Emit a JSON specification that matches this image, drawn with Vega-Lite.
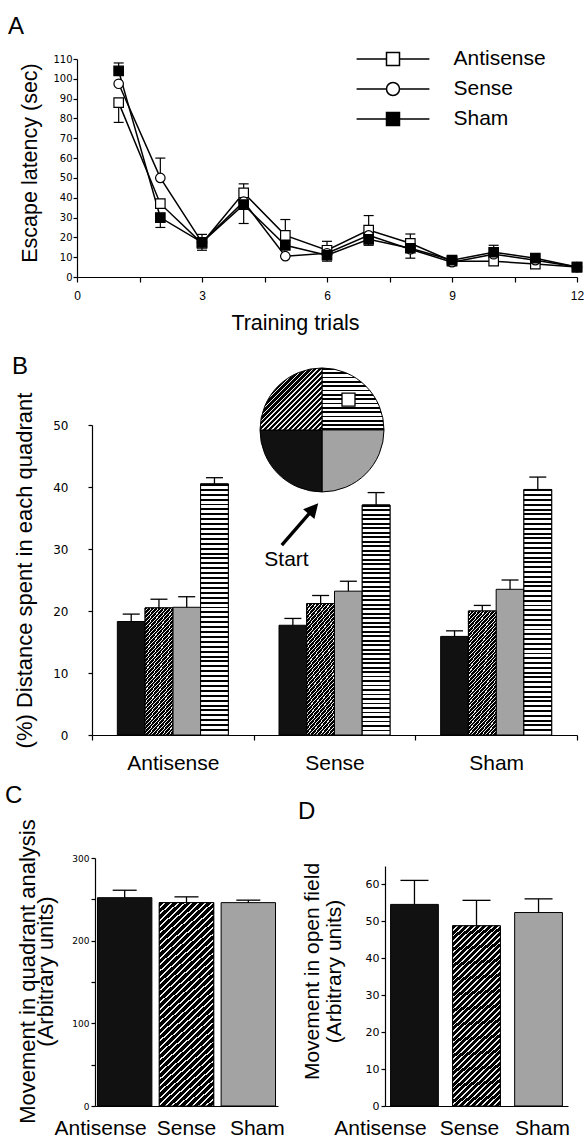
{
  "$schema": "https://vega.github.io/schema/vega-lite/v6.json",
  "background": "white",
  "padding": {"left": 5, "top": 15, "right": 0, "bottom": 0},
  "params": [
    {"name": "stripeStops", "value": [
      {"offset":0,"color":"#000"},{"offset":0.0078125,"color":"#000"},{"offset":0.0078125,"color":"#fff"},{"offset":0.01953125,"color":"#fff"},
      {"offset":0.01953125,"color":"#000"},{"offset":0.02734375,"color":"#000"},{"offset":0.02734375,"color":"#fff"},{"offset":0.0390625,"color":"#fff"},
      {"offset":0.0390625,"color":"#000"},{"offset":0.046875,"color":"#000"},{"offset":0.046875,"color":"#fff"},{"offset":0.05859375,"color":"#fff"},
      {"offset":0.05859375,"color":"#000"},{"offset":0.06640625,"color":"#000"},{"offset":0.06640625,"color":"#fff"},{"offset":0.078125,"color":"#fff"},
      {"offset":0.078125,"color":"#000"},{"offset":0.0859375,"color":"#000"},{"offset":0.0859375,"color":"#fff"},{"offset":0.09765625,"color":"#fff"},
      {"offset":0.09765625,"color":"#000"},{"offset":0.10546875,"color":"#000"},{"offset":0.10546875,"color":"#fff"},{"offset":0.1171875,"color":"#fff"},
      {"offset":0.1171875,"color":"#000"},{"offset":0.125,"color":"#000"},{"offset":0.125,"color":"#fff"},{"offset":0.13671875,"color":"#fff"},
      {"offset":0.13671875,"color":"#000"},{"offset":0.14453125,"color":"#000"},{"offset":0.14453125,"color":"#fff"},{"offset":0.15625,"color":"#fff"},
      {"offset":0.15625,"color":"#000"},{"offset":0.1640625,"color":"#000"},{"offset":0.1640625,"color":"#fff"},{"offset":0.17578125,"color":"#fff"},
      {"offset":0.17578125,"color":"#000"},{"offset":0.18359375,"color":"#000"},{"offset":0.18359375,"color":"#fff"},{"offset":0.1953125,"color":"#fff"},
      {"offset":0.1953125,"color":"#000"},{"offset":0.203125,"color":"#000"},{"offset":0.203125,"color":"#fff"},{"offset":0.21484375,"color":"#fff"},
      {"offset":0.21484375,"color":"#000"},{"offset":0.22265625,"color":"#000"},{"offset":0.22265625,"color":"#fff"},{"offset":0.234375,"color":"#fff"},
      {"offset":0.234375,"color":"#000"},{"offset":0.2421875,"color":"#000"},{"offset":0.2421875,"color":"#fff"},{"offset":0.25390625,"color":"#fff"},
      {"offset":0.25390625,"color":"#000"},{"offset":0.26171875,"color":"#000"},{"offset":0.26171875,"color":"#fff"},{"offset":0.2734375,"color":"#fff"},
      {"offset":0.2734375,"color":"#000"},{"offset":0.28125,"color":"#000"},{"offset":0.28125,"color":"#fff"},{"offset":0.29296875,"color":"#fff"},
      {"offset":0.29296875,"color":"#000"},{"offset":0.30078125,"color":"#000"},{"offset":0.30078125,"color":"#fff"},{"offset":0.3125,"color":"#fff"},
      {"offset":0.3125,"color":"#000"},{"offset":0.3203125,"color":"#000"},{"offset":0.3203125,"color":"#fff"},{"offset":0.33203125,"color":"#fff"},
      {"offset":0.33203125,"color":"#000"},{"offset":0.33984375,"color":"#000"},{"offset":0.33984375,"color":"#fff"},{"offset":0.3515625,"color":"#fff"},
      {"offset":0.3515625,"color":"#000"},{"offset":0.359375,"color":"#000"},{"offset":0.359375,"color":"#fff"},{"offset":0.37109375,"color":"#fff"},
      {"offset":0.37109375,"color":"#000"},{"offset":0.37890625,"color":"#000"},{"offset":0.37890625,"color":"#fff"},{"offset":0.390625,"color":"#fff"},
      {"offset":0.390625,"color":"#000"},{"offset":0.3984375,"color":"#000"},{"offset":0.3984375,"color":"#fff"},{"offset":0.41015625,"color":"#fff"},
      {"offset":0.41015625,"color":"#000"},{"offset":0.41796875,"color":"#000"},{"offset":0.41796875,"color":"#fff"},{"offset":0.4296875,"color":"#fff"},
      {"offset":0.4296875,"color":"#000"},{"offset":0.4375,"color":"#000"},{"offset":0.4375,"color":"#fff"},{"offset":0.44921875,"color":"#fff"},
      {"offset":0.44921875,"color":"#000"},{"offset":0.45703125,"color":"#000"},{"offset":0.45703125,"color":"#fff"},{"offset":0.46875,"color":"#fff"},
      {"offset":0.46875,"color":"#000"},{"offset":0.4765625,"color":"#000"},{"offset":0.4765625,"color":"#fff"},{"offset":0.48828125,"color":"#fff"},
      {"offset":0.48828125,"color":"#000"},{"offset":0.49609375,"color":"#000"},{"offset":0.49609375,"color":"#fff"},{"offset":0.5078125,"color":"#fff"},
      {"offset":0.5078125,"color":"#000"},{"offset":0.515625,"color":"#000"},{"offset":0.515625,"color":"#fff"},{"offset":0.52734375,"color":"#fff"},
      {"offset":0.52734375,"color":"#000"},{"offset":0.53515625,"color":"#000"},{"offset":0.53515625,"color":"#fff"},{"offset":0.546875,"color":"#fff"},
      {"offset":0.546875,"color":"#000"},{"offset":0.5546875,"color":"#000"},{"offset":0.5546875,"color":"#fff"},{"offset":0.56640625,"color":"#fff"},
      {"offset":0.56640625,"color":"#000"},{"offset":0.57421875,"color":"#000"},{"offset":0.57421875,"color":"#fff"},{"offset":0.5859375,"color":"#fff"},
      {"offset":0.5859375,"color":"#000"},{"offset":0.59375,"color":"#000"},{"offset":0.59375,"color":"#fff"},{"offset":0.60546875,"color":"#fff"},
      {"offset":0.60546875,"color":"#000"},{"offset":0.61328125,"color":"#000"},{"offset":0.61328125,"color":"#fff"},{"offset":0.625,"color":"#fff"},
      {"offset":0.625,"color":"#000"},{"offset":0.6328125,"color":"#000"},{"offset":0.6328125,"color":"#fff"},{"offset":0.64453125,"color":"#fff"},
      {"offset":0.64453125,"color":"#000"},{"offset":0.65234375,"color":"#000"},{"offset":0.65234375,"color":"#fff"},{"offset":0.6640625,"color":"#fff"},
      {"offset":0.6640625,"color":"#000"},{"offset":0.671875,"color":"#000"},{"offset":0.671875,"color":"#fff"},{"offset":0.68359375,"color":"#fff"},
      {"offset":0.68359375,"color":"#000"},{"offset":0.69140625,"color":"#000"},{"offset":0.69140625,"color":"#fff"},{"offset":0.703125,"color":"#fff"},
      {"offset":0.703125,"color":"#000"},{"offset":0.7109375,"color":"#000"},{"offset":0.7109375,"color":"#fff"},{"offset":0.72265625,"color":"#fff"},
      {"offset":0.72265625,"color":"#000"},{"offset":0.73046875,"color":"#000"},{"offset":0.73046875,"color":"#fff"},{"offset":0.7421875,"color":"#fff"},
      {"offset":0.7421875,"color":"#000"},{"offset":0.75,"color":"#000"},{"offset":0.75,"color":"#fff"},{"offset":0.76171875,"color":"#fff"},
      {"offset":0.76171875,"color":"#000"},{"offset":0.76953125,"color":"#000"},{"offset":0.76953125,"color":"#fff"},{"offset":0.78125,"color":"#fff"},
      {"offset":0.78125,"color":"#000"},{"offset":0.7890625,"color":"#000"},{"offset":0.7890625,"color":"#fff"},{"offset":0.80078125,"color":"#fff"},
      {"offset":0.80078125,"color":"#000"},{"offset":0.80859375,"color":"#000"},{"offset":0.80859375,"color":"#fff"},{"offset":0.8203125,"color":"#fff"},
      {"offset":0.8203125,"color":"#000"},{"offset":0.828125,"color":"#000"},{"offset":0.828125,"color":"#fff"},{"offset":0.83984375,"color":"#fff"},
      {"offset":0.83984375,"color":"#000"},{"offset":0.84765625,"color":"#000"},{"offset":0.84765625,"color":"#fff"},{"offset":0.859375,"color":"#fff"},
      {"offset":0.859375,"color":"#000"},{"offset":0.8671875,"color":"#000"},{"offset":0.8671875,"color":"#fff"},{"offset":0.87890625,"color":"#fff"},
      {"offset":0.87890625,"color":"#000"},{"offset":0.88671875,"color":"#000"},{"offset":0.88671875,"color":"#fff"},{"offset":0.8984375,"color":"#fff"},
      {"offset":0.8984375,"color":"#000"},{"offset":0.90625,"color":"#000"},{"offset":0.90625,"color":"#fff"},{"offset":0.91796875,"color":"#fff"},
      {"offset":0.91796875,"color":"#000"},{"offset":0.92578125,"color":"#000"},{"offset":0.92578125,"color":"#fff"},{"offset":0.9375,"color":"#fff"},
      {"offset":0.9375,"color":"#000"},{"offset":0.9453125,"color":"#000"},{"offset":0.9453125,"color":"#fff"},{"offset":0.95703125,"color":"#fff"},
      {"offset":0.95703125,"color":"#000"},{"offset":0.96484375,"color":"#000"},{"offset":0.96484375,"color":"#fff"},{"offset":0.9765625,"color":"#fff"},
      {"offset":0.9765625,"color":"#000"},{"offset":0.984375,"color":"#000"},{"offset":0.984375,"color":"#fff"},{"offset":1,"color":"#fff"}
    ]},
    {"name": "hatchStops", "value": [
      {"offset":0,"color":"#000"},{"offset":0.0175,"color":"#000"},{"offset":0.0175,"color":"#eee"},{"offset":0.025,"color":"#eee"},
      {"offset":0.025,"color":"#000"},{"offset":0.0425,"color":"#000"},{"offset":0.0425,"color":"#eee"},{"offset":0.05,"color":"#eee"},
      {"offset":0.05,"color":"#000"},{"offset":0.0675,"color":"#000"},{"offset":0.0675,"color":"#eee"},{"offset":0.075,"color":"#eee"},
      {"offset":0.075,"color":"#000"},{"offset":0.0925,"color":"#000"},{"offset":0.0925,"color":"#eee"},{"offset":0.1,"color":"#eee"},
      {"offset":0.1,"color":"#000"},{"offset":0.1175,"color":"#000"},{"offset":0.1175,"color":"#eee"},{"offset":0.125,"color":"#eee"},
      {"offset":0.125,"color":"#000"},{"offset":0.1425,"color":"#000"},{"offset":0.1425,"color":"#eee"},{"offset":0.15,"color":"#eee"},
      {"offset":0.15,"color":"#000"},{"offset":0.1675,"color":"#000"},{"offset":0.1675,"color":"#eee"},{"offset":0.175,"color":"#eee"},
      {"offset":0.175,"color":"#000"},{"offset":0.1925,"color":"#000"},{"offset":0.1925,"color":"#eee"},{"offset":0.2,"color":"#eee"},
      {"offset":0.2,"color":"#000"},{"offset":0.2175,"color":"#000"},{"offset":0.2175,"color":"#eee"},{"offset":0.225,"color":"#eee"},
      {"offset":0.225,"color":"#000"},{"offset":0.2425,"color":"#000"},{"offset":0.2425,"color":"#eee"},{"offset":0.25,"color":"#eee"},
      {"offset":0.25,"color":"#000"},{"offset":0.2675,"color":"#000"},{"offset":0.2675,"color":"#eee"},{"offset":0.275,"color":"#eee"},
      {"offset":0.275,"color":"#000"},{"offset":0.2925,"color":"#000"},{"offset":0.2925,"color":"#eee"},{"offset":0.3,"color":"#eee"},
      {"offset":0.3,"color":"#000"},{"offset":0.3175,"color":"#000"},{"offset":0.3175,"color":"#eee"},{"offset":0.325,"color":"#eee"},
      {"offset":0.325,"color":"#000"},{"offset":0.3425,"color":"#000"},{"offset":0.3425,"color":"#eee"},{"offset":0.35,"color":"#eee"},
      {"offset":0.35,"color":"#000"},{"offset":0.3675,"color":"#000"},{"offset":0.3675,"color":"#eee"},{"offset":0.375,"color":"#eee"},
      {"offset":0.375,"color":"#000"},{"offset":0.3925,"color":"#000"},{"offset":0.3925,"color":"#eee"},{"offset":0.4,"color":"#eee"},
      {"offset":0.4,"color":"#000"},{"offset":0.4175,"color":"#000"},{"offset":0.4175,"color":"#eee"},{"offset":0.425,"color":"#eee"},
      {"offset":0.425,"color":"#000"},{"offset":0.4425,"color":"#000"},{"offset":0.4425,"color":"#eee"},{"offset":0.45,"color":"#eee"},
      {"offset":0.45,"color":"#000"},{"offset":0.4675,"color":"#000"},{"offset":0.4675,"color":"#eee"},{"offset":0.475,"color":"#eee"},
      {"offset":0.475,"color":"#000"},{"offset":0.4925,"color":"#000"},{"offset":0.4925,"color":"#eee"},{"offset":0.5,"color":"#eee"},
      {"offset":0.5,"color":"#000"},{"offset":0.5175,"color":"#000"},{"offset":0.5175,"color":"#eee"},{"offset":0.525,"color":"#eee"},
      {"offset":0.525,"color":"#000"},{"offset":0.5425,"color":"#000"},{"offset":0.5425,"color":"#eee"},{"offset":0.55,"color":"#eee"},
      {"offset":0.55,"color":"#000"},{"offset":0.5675,"color":"#000"},{"offset":0.5675,"color":"#eee"},{"offset":0.575,"color":"#eee"},
      {"offset":0.575,"color":"#000"},{"offset":0.5925,"color":"#000"},{"offset":0.5925,"color":"#eee"},{"offset":0.6,"color":"#eee"},
      {"offset":0.6,"color":"#000"},{"offset":0.6175,"color":"#000"},{"offset":0.6175,"color":"#eee"},{"offset":0.625,"color":"#eee"},
      {"offset":0.625,"color":"#000"},{"offset":0.6425,"color":"#000"},{"offset":0.6425,"color":"#eee"},{"offset":0.65,"color":"#eee"},
      {"offset":0.65,"color":"#000"},{"offset":0.6675,"color":"#000"},{"offset":0.6675,"color":"#eee"},{"offset":0.675,"color":"#eee"},
      {"offset":0.675,"color":"#000"},{"offset":0.6925,"color":"#000"},{"offset":0.6925,"color":"#eee"},{"offset":0.7,"color":"#eee"},
      {"offset":0.7,"color":"#000"},{"offset":0.7175,"color":"#000"},{"offset":0.7175,"color":"#eee"},{"offset":0.725,"color":"#eee"},
      {"offset":0.725,"color":"#000"},{"offset":0.7425,"color":"#000"},{"offset":0.7425,"color":"#eee"},{"offset":0.75,"color":"#eee"},
      {"offset":0.75,"color":"#000"},{"offset":0.7675,"color":"#000"},{"offset":0.7675,"color":"#eee"},{"offset":0.775,"color":"#eee"},
      {"offset":0.775,"color":"#000"},{"offset":0.7925,"color":"#000"},{"offset":0.7925,"color":"#eee"},{"offset":0.8,"color":"#eee"},
      {"offset":0.8,"color":"#000"},{"offset":0.8175,"color":"#000"},{"offset":0.8175,"color":"#eee"},{"offset":0.825,"color":"#eee"},
      {"offset":0.825,"color":"#000"},{"offset":0.8425,"color":"#000"},{"offset":0.8425,"color":"#eee"},{"offset":0.85,"color":"#eee"},
      {"offset":0.85,"color":"#000"},{"offset":0.8675,"color":"#000"},{"offset":0.8675,"color":"#eee"},{"offset":0.875,"color":"#eee"},
      {"offset":0.875,"color":"#000"},{"offset":0.8925,"color":"#000"},{"offset":0.8925,"color":"#eee"},{"offset":0.9,"color":"#eee"},
      {"offset":0.9,"color":"#000"},{"offset":0.9175,"color":"#000"},{"offset":0.9175,"color":"#eee"},{"offset":0.925,"color":"#eee"},
      {"offset":0.925,"color":"#000"},{"offset":0.9425,"color":"#000"},{"offset":0.9425,"color":"#eee"},{"offset":0.95,"color":"#eee"},
      {"offset":0.95,"color":"#000"},{"offset":0.9675,"color":"#000"},{"offset":0.9675,"color":"#eee"},{"offset":0.975,"color":"#eee"},
      {"offset":0.975,"color":"#000"},{"offset":0.9925,"color":"#000"},{"offset":0.9925,"color":"#eee"},{"offset":1,"color":"#eee"}
    ]}
  ],
  "config": {
    "view": {"stroke": null},
    "font": "Liberation Sans",
    "axis": {"grid": false, "domainColor": "black", "tickColor": "black", "labelColor": "black", "titleColor": "black", "titleFontWeight": "normal", "labelFont": "Liberation Sans", "titleFont": "Liberation Sans", "domainWidth": 1.2, "tickWidth": 1.2, "labelFlush": false},
    "title": {"font": "Liberation Sans", "fontSize": 24, "fontWeight": "normal", "color": "black", "anchor": "start", "frame": "group"}
  },
  "spacing": 10,
  "vconcat": [
    {
      "spacing": 20,
      "vconcat": [
        {
          "width": 500,
          "height": 218,
          "title": {"text": "A", "dx": -69, "offset": -4, "baseline": "alphabetic"},
          "data": {"values": [
            {"t":1,"g":"Antisense","v":88,"lo":78,"hi":88},
            {"t":2,"g":"Antisense","v":37,"lo":37,"hi":37},
            {"t":3,"g":"Antisense","v":17,"lo":17,"hi":17},
            {"t":4,"g":"Antisense","v":42.5,"lo":42.5,"hi":47},
            {"t":5,"g":"Antisense","v":21,"lo":21,"hi":29},
            {"t":6,"g":"Antisense","v":13.5,"lo":13.5,"hi":18},
            {"t":7,"g":"Antisense","v":23.7,"lo":23.7,"hi":31},
            {"t":8,"g":"Antisense","v":17,"lo":17,"hi":21.7},
            {"t":9,"g":"Antisense","v":8,"lo":8,"hi":8},
            {"t":10,"g":"Antisense","v":8,"lo":8,"hi":8},
            {"t":11,"g":"Antisense","v":6.5,"lo":6.5,"hi":6.5},
            {"t":12,"g":"Antisense","v":5,"lo":5,"hi":5},
            {"t":1,"g":"Sense","v":97.5,"lo":97.5,"hi":97.5},
            {"t":2,"g":"Sense","v":50,"lo":50,"hi":60},
            {"t":3,"g":"Sense","v":17.5,"lo":17.5,"hi":17.5},
            {"t":4,"g":"Sense","v":38,"lo":38,"hi":38},
            {"t":5,"g":"Sense","v":10.5,"lo":10.5,"hi":10.5},
            {"t":6,"g":"Sense","v":12,"lo":12,"hi":12},
            {"t":7,"g":"Sense","v":21,"lo":21,"hi":21},
            {"t":8,"g":"Sense","v":14,"lo":14,"hi":14},
            {"t":9,"g":"Sense","v":7.5,"lo":7.5,"hi":7.5},
            {"t":10,"g":"Sense","v":11.5,"lo":11.5,"hi":11.5},
            {"t":11,"g":"Sense","v":8.5,"lo":8.5,"hi":8.5},
            {"t":12,"g":"Sense","v":5,"lo":5,"hi":5},
            {"t":1,"g":"Sham","v":104,"lo":104,"hi":108},
            {"t":2,"g":"Sham","v":30,"lo":25,"hi":30},
            {"t":3,"g":"Sham","v":17.5,"lo":13.5,"hi":21.5},
            {"t":4,"g":"Sham","v":36.5,"lo":27,"hi":36.5},
            {"t":5,"g":"Sham","v":16,"lo":16,"hi":16},
            {"t":6,"g":"Sham","v":11,"lo":8,"hi":11},
            {"t":7,"g":"Sham","v":19,"lo":16,"hi":19},
            {"t":8,"g":"Sham","v":14.5,"lo":9.5,"hi":14.5},
            {"t":9,"g":"Sham","v":8.5,"lo":8.5,"hi":8.5},
            {"t":10,"g":"Sham","v":12.5,"lo":9.5,"hi":16},
            {"t":11,"g":"Sham","v":9.5,"lo":9.5,"hi":9.5},
            {"t":12,"g":"Sham","v":5,"lo":5,"hi":5}
          ]},
          "layer": [
            {
              "transform": [{"filter": "datum.hi > datum.lo"}],
              "mark": {"type": "rule", "color": "black", "strokeWidth": 1.2},
              "encoding": {
                "x": {"field": "t", "type": "quantitative", "scale": {"domain": [0, 12], "nice": false},
                  "axis": {"title": "Training trials", "values": [0, 1.5, 3, 4.5, 6, 7.5, 9, 10.5, 12], "labelExpr": "datum.value % 3 === 0 ? datum.label : ''", "tickSize": 5, "labelPadding": 8, "labelFontSize": 12, "titleFontSize": 21.5, "titlePadding": 11, "titleX": 218, "labelOverlap": false}},
                "y": {"field": "lo", "type": "quantitative", "scale": {"domain": [0, 110], "nice": false},
                  "axis": {"title": "Escape latency (sec)", "values": [0, 10, 20, 30, 40, 50, 60, 70, 80, 90, 100, 110], "tickCount": 12, "tickSize": 4, "labelPadding": 1, "labelFont": "DejaVu Sans", "labelFontSize": 10, "labelOverlap": false, "titleFontSize": 21.5, "titlePadding": 11, "titleY": 103.5}},
                "y2": {"field": "hi"}
              }
            },
            {
              "transform": [{"filter": "datum.hi > datum.v"}],
              "mark": {"type": "tick", "orient": "horizontal", "color": "black", "size": 10, "thickness": 1.2, "opacity": 1},
              "encoding": {"x": {"field": "t", "type": "quantitative"}, "y": {"field": "hi", "type": "quantitative"}}
            },
            {
              "transform": [{"filter": "datum.lo < datum.v"}],
              "mark": {"type": "tick", "orient": "horizontal", "color": "black", "size": 10, "thickness": 1.2, "opacity": 1},
              "encoding": {"x": {"field": "t", "type": "quantitative"}, "y": {"field": "lo", "type": "quantitative"}}
            },
            {
              "mark": {"type": "line", "color": "black", "strokeWidth": 1.5},
              "encoding": {
                "x": {"field": "t", "type": "quantitative"},
                "y": {"field": "v", "type": "quantitative",
                  "axis": {"title": "Escape latency (sec)", "values": [0, 10, 20, 30, 40, 50, 60, 70, 80, 90, 100, 110], "tickCount": 12, "tickSize": 4, "labelPadding": 1, "labelFont": "DejaVu Sans", "labelFontSize": 10, "labelOverlap": false, "titleFontSize": 21.5, "titlePadding": 11, "titleY": 103.5}},
                "detail": {"field": "g", "type": "nominal"}
              }
            },
            {
              "mark": {"type": "point", "filled": true, "size": 90, "stroke": "black", "strokeWidth": 1.2, "opacity": 1},
              "encoding": {
                "x": {"field": "t", "type": "quantitative"},
                "y": {"field": "v", "type": "quantitative"},
                "shape": {"condition": {"test": "datum.g === 'Sense'", "value": "circle"}, "value": "square"},
                "fill": {"condition": {"test": "datum.g === 'Sham'", "value": "black"}, "value": "white"}
              }
            },
            {
              "transform": [{"filter": "false"}],
              "mark": {"type": "point", "filled": false, "color": "black", "opacity": 1, "strokeWidth": 1.5},
              "encoding": {
                "x": {"field": "t", "type": "quantitative"},
                "y": {"field": "v", "type": "quantitative"},
                "shape": {"field": "g", "type": "nominal",
                  "scale": {"domain": ["Antisense", "Sense", "Sham"], "range": ["M-5.6,0H-1M1,0H5.6M-1,-1H1V1H-1Z", "M-5.6,0H-1M1,0H5.6M-1,0A1,1,0,1,1,1,0A1,1,0,1,1,-1,0Z", "M-5.6,0H5.6M-1,-1H1V1H-1ZM-1,-0.8H1M-1,-0.6H1M-1,-0.4H1M-1,-0.2H1M-1,0.2H1M-1,0.4H1M-1,0.6H1M-1,0.8H1"]},
                  "legend": {"orient": "none", "legendX": 305.5, "legendY": -10.5, "title": null, "padding": 0, "symbolSize": 169, "symbolStrokeColor": "black", "symbolStrokeWidth": 1.5, "symbolOpacity": 1, "labelFont": "Liberation Sans", "labelFontSize": 21, "labelColor": "black", "labelOffset": 50, "rowPadding": 8, "labelLimit": 300}
                }
              }
            }
          ]
        },
        {
          "width": 500,
          "height": 310,
          "title": {"text": "B", "dx": -65, "offset": -32, "baseline": "alphabetic"},
          "data": {"values": [
            {"grp":"Antisense","q":"black","v":18.3,"e":19.5},
            {"grp":"Antisense","q":"hatch","v":20.5,"e":21.9},
            {"grp":"Antisense","q":"gray","v":20.6,"e":22.3},
            {"grp":"Antisense","q":"stripe","v":40.5,"e":41.5},
            {"grp":"Sense","q":"black","v":17.7,"e":18.8},
            {"grp":"Sense","q":"hatch","v":21.2,"e":22.5},
            {"grp":"Sense","q":"gray","v":23.2,"e":24.8},
            {"grp":"Sense","q":"stripe","v":37.1,"e":39.1},
            {"grp":"Sham","q":"black","v":15.9,"e":16.8},
            {"grp":"Sham","q":"hatch","v":20.0,"e":20.9},
            {"grp":"Sham","q":"gray","v":23.5,"e":25.0},
            {"grp":"Sham","q":"stripe","v":39.6,"e":41.6}
          ]},
          "layer": [
            {
              "mark": {"type": "bar", "stroke": "black", "strokeWidth": 1},
              "encoding": {
                "x": {"field": "grp", "type": "nominal", "scale": {"range": [15, 500], "paddingInner": 0, "paddingOuter": 0},
                  "axis": {"title": null, "tickBand": "extent", "tickSize": 5, "labelFontSize": 21, "labelPadding": 12, "labelAngle": 0, "labelOverlap": false}},
                "xOffset": {"field": "q", "type": "nominal", "sort": ["black", "hatch", "gray", "stripe"], "scale": {"paddingInner": 0, "paddingOuter": 0.913}},
                "y": {"field": "v", "type": "quantitative", "scale": {"domain": [0, 50], "nice": false},
                  "axis": {"title": "(%) Distance spent in each quadrant", "values": [0, 5, 10, 15, 20, 25, 30, 35, 40, 45, 50], "labelExpr": "datum.value % 10 === 0 ? datum.label : ''", "offset": -15, "tickSize": 4, "labelPadding": 20, "labelFont": "DejaVu Sans", "labelFontSize": 12, "titleFontSize": 22, "titlePadding": 16, "titleY": 145}},
                "fill": {"condition": {"test": "datum.q === 'gray'", "value": "#a3a3a3"}, "value": "#111111"}
              }
            },
            {
              "transform": [{"filter": "datum.q === 'hatch'"}],
              "mark": {"type": "bar", "stroke": "black", "strokeWidth": 1, "fill": {"expr": "{gradient:'linear',x1:0,y1:0,x2:0.294,y2:1.176,stops:hatchStops}"}},
              "encoding": {
                "x": {"field": "grp", "type": "nominal"},
                "xOffset": {"field": "q", "type": "nominal", "sort": ["black", "hatch", "gray", "stripe"]},
                "y": {"field": "v", "type": "quantitative"}
              }
            },
            {
              "transform": [{"filter": "datum.q === 'stripe'"}],
              "mark": {"type": "bar", "stroke": "black", "strokeWidth": 1, "fill": {"expr": "{gradient:'linear',x1:0,y1:0,x2:0,y2:1,stops:stripeStops}"}},
              "encoding": {
                "x": {"field": "grp", "type": "nominal"},
                "xOffset": {"field": "q", "type": "nominal", "sort": ["black", "hatch", "gray", "stripe"]},
                "y": {"field": "v", "type": "quantitative"}
              }
            },
            {
              "mark": {"type": "rule", "color": "black", "strokeWidth": 1.3},
              "encoding": {
                "x": {"field": "grp", "type": "nominal"},
                "xOffset": {"field": "q", "type": "nominal", "sort": ["black", "hatch", "gray", "stripe"]},
                "y": {"field": "v", "type": "quantitative"},
                "y2": {"field": "e"}
              }
            },
            {
              "mark": {"type": "tick", "orient": "horizontal", "color": "black", "size": 17, "thickness": 1.3, "opacity": 1},
              "encoding": {
                "x": {"field": "grp", "type": "nominal"},
                "xOffset": {"field": "q", "type": "nominal", "sort": ["black", "hatch", "gray", "stripe"]},
                "y": {"field": "e", "type": "quantitative"}
              }
            },
            {
              "data": {"values": [
                {"quad": "stripe", "share": 1, "k": 1},
                {"quad": "gray", "share": 1, "k": 2},
                {"quad": "black", "share": 1, "k": 3},
                {"quad": "hatch", "share": 1, "k": 4}
              ]},
              "mark": {"type": "arc", "radius": 62, "stroke": "black", "strokeWidth": 1, "xOffset": -12.5,
                "fill": {"expr": "datum.quad === 'stripe' ? {gradient:'linear',x1:0,y1:0,x2:0,y2:3.57,stops:stripeStops} : datum.quad === 'hatch' ? {gradient:'linear',x1:0,y1:0,x2:1.6,y2:1.6,stops:hatchStops} : datum.quad === 'gray' ? '#a3a3a3' : '#111111'"}},
              "encoding": {
                "theta": {"field": "share", "type": "quantitative", "stack": true},
                "order": {"field": "k", "type": "quantitative"},
                "x": {"datum": "Sense", "type": "nominal"},
                "y": {"datum": 49.2, "type": "quantitative"}
              }
            },
            {
              "data": {"values": [{"label": "platform"}]},
              "mark": {"type": "point", "shape": "square", "size": 169, "filled": true, "fill": "white", "stroke": "black", "strokeWidth": 1.3, "opacity": 1, "xOffset": 14},
              "encoding": {
                "x": {"datum": "Sense", "type": "nominal"},
                "y": {"datum": 54.1, "type": "quantitative"}
              }
            },
            {
              "data": {"values": [{"label": "arrow"}]},
              "mark": {"type": "point", "shape": "M-0.06,1L0.06,1L0.06,-0.48L0.27,-0.48L0,-1L-0.27,-0.48L-0.06,-0.48Z", "size": 3080, "filled": true, "color": "black", "opacity": 1, "angle": 41, "xOffset": -34.5},
              "encoding": {
                "x": {"datum": "Sense", "type": "nominal"},
                "y": {"datum": 34.0, "type": "quantitative"}
              }
            },
            {
              "data": {"values": [{"label": "Start"}]},
              "mark": {"type": "text", "fontSize": 21, "font": "Liberation Sans", "color": "black", "xOffset": -48},
              "encoding": {
                "text": {"field": "label", "type": "nominal"},
                "x": {"datum": "Sense", "type": "nominal"},
                "y": {"datum": 28.2, "type": "quantitative"}
              }
            }
          ]
        }
      ]
    },
    {
      "spacing": 13,
      "hconcat": [
        {
          "width": 201,
          "height": 248,
          "title": {"text": "C", "dx": -72, "offset": -8, "baseline": "alphabetic"},
          "data": {"values": [
            {"grp": "Antisense", "v": 252, "e": 261},
            {"grp": "Sense", "v": 246, "e": 253},
            {"grp": "Sham", "v": 246, "e": 249}
          ]},
          "layer": [
            {
              "mark": {"type": "bar", "stroke": "black", "strokeWidth": 1},
              "encoding": {
                "x": {"field": "grp", "type": "nominal", "scale": {"range": [18, 201], "paddingInner": 0.12, "paddingOuter": 0.04},
                  "axis": {"title": null, "ticks": false, "labels": false}},
                "y": {"field": "v", "type": "quantitative", "scale": {"domain": [0, 300], "nice": false},
                  "axis": {"title": ["Movement in quadrant analysis", "(Arbitrary units)"], "values": [0, 50, 100, 150, 200, 250, 300], "labelExpr": "datum.value % 100 === 0 ? datum.label : ''", "offset": -18, "tickSize": 4, "labelPadding": 2, "labelFont": "DejaVu Sans", "labelFontSize": 9, "titleFontSize": 22, "titleLineHeight": 18, "titlePadding": 14, "titleY": 113}},
                "fill": {"condition": {"test": "datum.grp === 'Sham'", "value": "#a3a3a3"}, "value": "#111111"}
              }
            },
            {
              "transform": [{"filter": "datum.grp === 'Sense'"}],
              "mark": {"type": "bar", "stroke": "black", "strokeWidth": 1, "fill": {"expr": "{gradient:'linear',x1:0,y1:0,x2:0.294,y2:1.176,stops:hatchStops}"}},
              "encoding": {
                "x": {"field": "grp", "type": "nominal"},
                "y": {"field": "v", "type": "quantitative"}
              }
            },
            {
              "mark": {"type": "rule", "color": "black", "strokeWidth": 1.3},
              "encoding": {
                "x": {"field": "grp", "type": "nominal"},
                "y": {"field": "v", "type": "quantitative"},
                "y2": {"field": "e"}
              }
            },
            {
              "mark": {"type": "tick", "orient": "horizontal", "color": "black", "size": 24, "thickness": 1.3, "opacity": 1},
              "encoding": {
                "x": {"field": "grp", "type": "nominal"},
                "y": {"field": "e", "type": "quantitative"}
              }
            },
            {
              "mark": {"type": "text", "fontSize": 21, "font": "Liberation Sans", "color": "black", "baseline": "middle",
                "dx": {"expr": "datum.grp === 'Antisense' ? -24 : datum.grp === 'Sham' ? 9 : 0"}},
              "encoding": {
                "x": {"field": "grp", "type": "nominal"},
                "y": {"datum": -28, "type": "quantitative"},
                "text": {"field": "grp", "type": "nominal"}
              }
            }
          ]
        },
        {
          "width": 183,
          "height": 248,
          "title": {"text": "D", "dx": -87, "offset": 15, "baseline": "alphabetic"},
          "data": {"values": [
            {"grp": "Antisense", "v": 54.6, "e": 61.1},
            {"grp": "Sense", "v": 48.8, "e": 55.7},
            {"grp": "Sham", "v": 52.4, "e": 56.1}
          ]},
          "layer": [
            {
              "mark": {"type": "bar", "stroke": "black", "strokeWidth": 1},
              "encoding": {
                "x": {"field": "grp", "type": "nominal", "scale": {"paddingInner": 0.23, "paddingOuter": 0.09},
                  "axis": {"title": null, "ticks": false, "labels": false}},
                "y": {"field": "v", "type": "quantitative", "scale": {"domain": [0, 65], "nice": false, "range": [248, 8]},
                  "axis": {"title": ["Movement in open field", "(Arbitrary units)"], "values": [0, 5, 10, 15, 20, 25, 30, 35, 40, 45, 50, 55, 60], "labelExpr": "datum.value % 10 === 0 ? datum.label : ''", "tickSize": 4, "labelPadding": 2, "labelFont": "DejaVu Sans", "labelFontSize": 11, "titleFontSize": 21, "titleLineHeight": 22, "titlePadding": 21, "titleY": 113}},
                "fill": {"condition": {"test": "datum.grp === 'Sham'", "value": "#a3a3a3"}, "value": "#111111"}
              }
            },
            {
              "transform": [{"filter": "datum.grp === 'Sense'"}],
              "mark": {"type": "bar", "stroke": "black", "strokeWidth": 1, "fill": {"expr": "{gradient:'linear',x1:0,y1:0,x2:0.294,y2:1.176,stops:hatchStops}"}},
              "encoding": {
                "x": {"field": "grp", "type": "nominal"},
                "y": {"field": "v", "type": "quantitative"}
              }
            },
            {
              "mark": {"type": "rule", "color": "black", "strokeWidth": 1.3},
              "encoding": {
                "x": {"field": "grp", "type": "nominal"},
                "y": {"field": "v", "type": "quantitative"},
                "y2": {"field": "e"}
              }
            },
            {
              "mark": {"type": "tick", "orient": "horizontal", "color": "black", "size": 28, "thickness": 1.3, "opacity": 1},
              "encoding": {
                "x": {"field": "grp", "type": "nominal"},
                "y": {"field": "e", "type": "quantitative"}
              }
            },
            {
              "mark": {"type": "text", "fontSize": 21, "font": "Liberation Sans", "color": "black", "baseline": "middle",
                "dx": {"expr": "datum.grp === 'Antisense' ? -34 : datum.grp === 'Sham' ? 4 : -7"}},
              "encoding": {
                "x": {"field": "grp", "type": "nominal"},
                "y": {"datum": -6.23, "type": "quantitative"},
                "text": {"field": "grp", "type": "nominal"}
              }
            }
          ]
        }
      ]
    }
  ]
}
